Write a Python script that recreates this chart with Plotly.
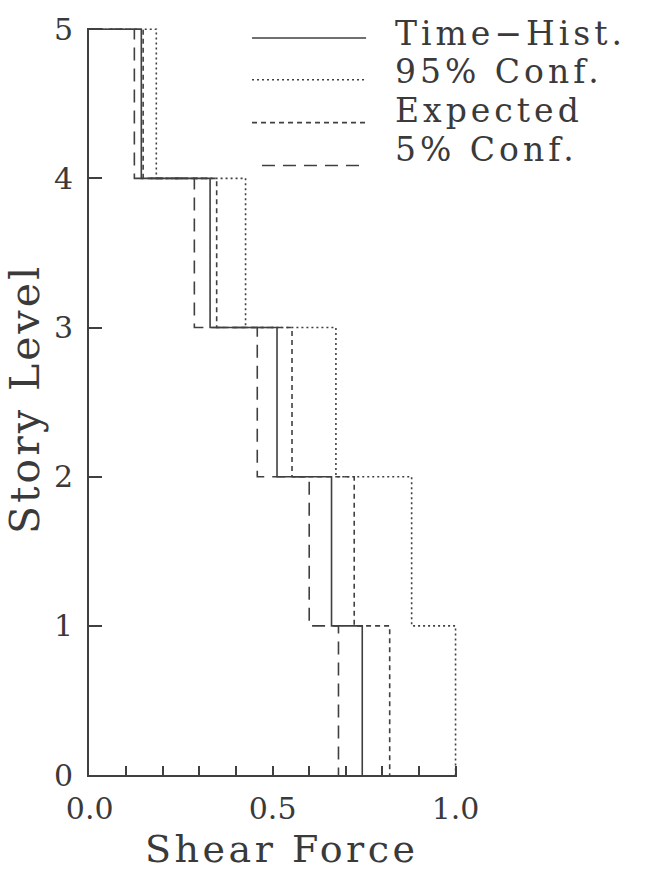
import plotly.graph_objects as go

# Story levels (story 1 at bottom ... story 5 at top)
stories = [1, 2, 3, 4, 5]
time_hist = [0.745, 0.661, 0.512, 0.329, 0.141]
conf95 = [1.000, 0.880, 0.673, 0.426, 0.182]
expected = [0.820, 0.723, 0.553, 0.347, 0.146]
conf5 = [0.680, 0.600, 0.458, 0.286, 0.122]

series_names = ["Time\u2212Hist.", "95% Conf.", "Expected", "5% Conf."]
x_ticks = [0.0, 0.5, 1.0]
y_ticks = [0, 1, 2, 3, 4, 5]

LINE = "#404040"
TEXT = "#3a3a3a"
FONT = "DejaVu Serif"


def step_path(vals):
    # start at (0, top level), then step down story by story
    xs = [0.0]
    ys = [stories[-1]]
    for s, v in zip(reversed(stories), reversed(vals)):
        xs += [v, v]
        ys += [s, s - 1]
    return xs, ys


def spaced(text, px):
    return f'<span style="letter-spacing:{px}px">{text}</span>'


styles = {
    "5% Conf.": "13px,8px",
    "Expected": "5px,4px",
    "95% Conf.": "2px,3px",
    "Time\u2212Hist.": "solid",
}
data_map = {
    "Time\u2212Hist.": time_hist,
    "95% Conf.": conf95,
    "Expected": expected,
    "5% Conf.": conf5,
}

fig = go.Figure()
for name in ["5% Conf.", "Expected", "95% Conf.", "Time\u2212Hist."]:
    xs, ys = step_path(data_map[name])
    fig.add_trace(go.Scatter(
        x=xs, y=ys, mode="lines", name=name, showlegend=False,
        line=dict(color=LINE, width=1.6, dash=styles[name]),
    ))

# manual legend
leg_line_y = [0.9867, 0.9307, 0.8733, 0.816]
leg_text_y = [0.9933, 0.9413, 0.8893, 0.8373]
for i, name in enumerate(series_names):
    fig.add_shape(type="line", xref="paper", yref="paper",
                  x0=0.443 if i != 3 else 0.47, x1=0.753,
                  y0=leg_line_y[i], y1=leg_line_y[i],
                  line=dict(color=LINE, width=1.6, dash=styles[name]))
    fig.add_annotation(x=0.826, y=leg_text_y[i], xref="paper", yref="paper",
                       text=spaced(name, 4), showarrow=False, xanchor="left", yanchor="middle",
                       font=dict(family=FONT, size=33, color=TEXT))

# axis titles
fig.add_annotation(x=0.525, y=-0.0987, xref="paper", yref="paper", text=spaced("Shear Force", 3.5),
                   showarrow=False, xanchor="center", yanchor="middle",
                   font=dict(family=FONT, size=38, color=TEXT))
fig.add_annotation(x=-0.172, y=0.503, xref="paper", yref="paper", text=spaced("Story Level", 3),
                   showarrow=False, xanchor="center", yanchor="middle", textangle=-90,
                   font=dict(family=FONT, size=41, color=TEXT))

fig.update_layout(
    width=650, height=871,
    margin=dict(l=89, r=193, t=25, b=96),
    paper_bgcolor="white", plot_bgcolor="white",
    showlegend=False,
    font=dict(family=FONT, color=TEXT),
    xaxis=dict(
        range=[-0.002, 1.004], showgrid=False, zeroline=False,
        showline=True, linecolor=LINE, linewidth=1.6,
        tickmode="array", tickvals=x_ticks, ticktext=[f"{v:.1f}" for v in x_ticks],
        ticks="inside", ticklen=9, tickwidth=1.6, tickcolor=LINE,
        ticklabelstandoff=6,
        tickfont=dict(family=FONT, size=30, color=TEXT),
        minor=dict(dtick=0.1, tick0=0, ticks="inside", ticklen=9, tickwidth=1.6, tickcolor=LINE),
    ),
    yaxis=dict(
        range=[0, 5.008], showgrid=False, zeroline=False,
        showline=True, linecolor=LINE, linewidth=1.6,
        tickmode="array", tickvals=y_ticks, ticktext=[str(v) for v in y_ticks],
        ticks="inside", ticklen=13, tickwidth=1.6, tickcolor=LINE,
        ticklabelstandoff=8,
        tickfont=dict(family=FONT, size=30, color=TEXT),
    ),
)

fig.write_html("out.html")
